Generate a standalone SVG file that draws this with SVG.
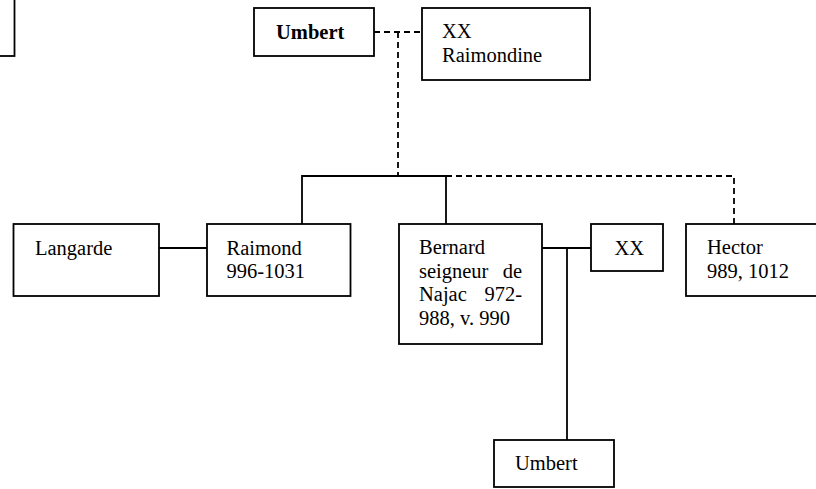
<svg xmlns="http://www.w3.org/2000/svg" width="816" height="489" viewBox="0 0 816 489">
<style>
.box{fill:#fff;stroke:#000;stroke-width:1.8}
.t{font-family:"Liberation Serif","Times New Roman",serif;font-size:20.5px;fill:#000}
.b{font-weight:bold}
.ln{fill:none;stroke:#000;stroke-width:1.8}
.d{stroke-dasharray:6 4}
</style>
<rect width="816" height="489" fill="#fff"/>
<g id="connectors">
<path class="ln d" d="M374,32 H422"/>
<path class="ln d" d="M398,32 V176"/>
<path class="ln" d="M302,224 V176 H446 V224"/>
<path class="ln d" d="M446,176 H734 V224"/>
<path class="ln" d="M159,248 H207"/>
<path class="ln" d="M542,248 H591"/>
<path class="ln" d="M567,248 V440"/>
</g>
<g id="node-topleft"><rect class="box" x="-20" y="-20" width="34.5" height="76"/></g>
<g id="node-umbert-top"><rect class="box" x="254" y="8" width="120" height="48"/><text class="t b" x="276" y="39">Umbert</text></g>
<g id="node-raimondine"><rect class="box" x="422" y="8" width="168" height="72"/><text class="t" x="442" y="38">XX</text><text class="t" x="442" y="62">Raimondine</text></g>
<g id="node-langarde"><rect class="box" x="13.5" y="224" width="145.5" height="72"/><text class="t" x="35" y="255">Langarde</text></g>
<g id="node-raimond"><rect class="box" x="207" y="224" width="143.5" height="72"/><text class="t" x="226.5" y="255">Raimond</text><text class="t" x="226.5" y="278">996-1031</text></g>
<g id="node-bernard"><rect class="box" x="399" y="224" width="143" height="120"/><text class="t" x="419" y="254">Bernard</text><text class="t" x="419" y="278">seigneur</text><text class="t" x="522" y="278" text-anchor="end">de</text><text class="t" x="419" y="301">Najac</text><text class="t" x="522" y="301" text-anchor="end">972-</text><text class="t" x="419" y="325">988, v. 990</text></g>
<g id="node-xx"><rect class="box" x="591" y="224" width="72" height="47"/><text class="t" x="614.5" y="255">XX</text></g>
<g id="node-hector"><rect class="box" x="686" y="224" width="144" height="72"/><text class="t" x="707" y="254">Hector</text><text class="t" x="707" y="278">989, 1012</text></g>
<g id="node-umbert-bottom"><rect class="box" x="494" y="440" width="120" height="47"/><text class="t" x="515" y="470">Umbert</text></g>
</svg>
